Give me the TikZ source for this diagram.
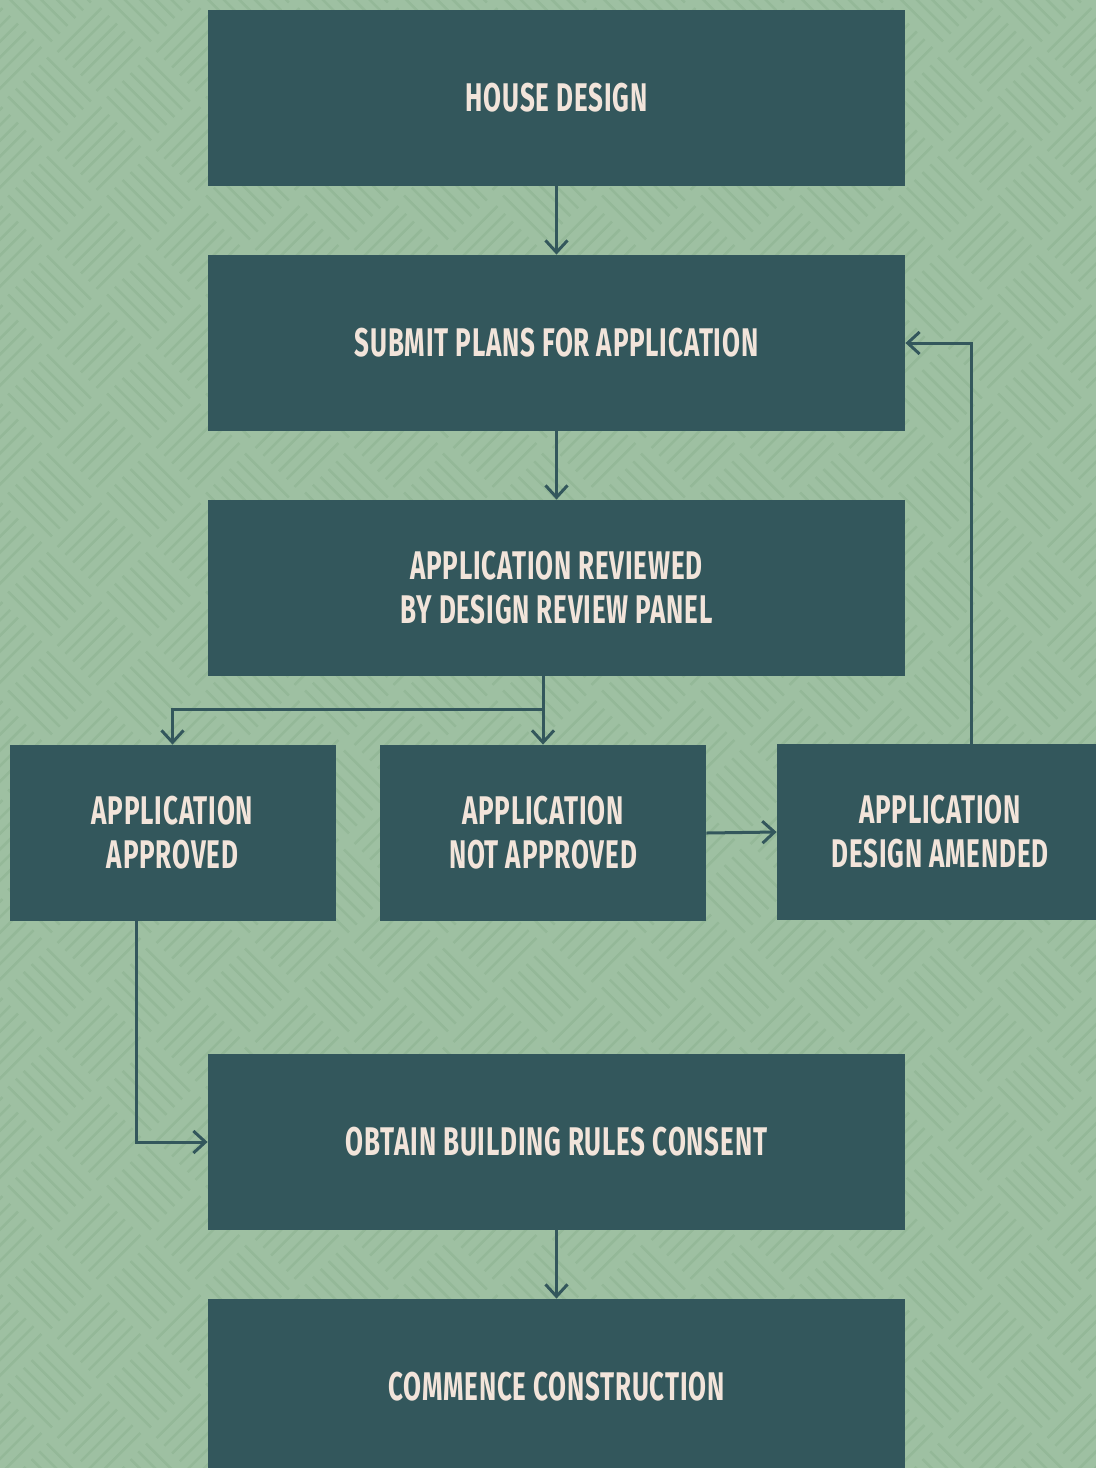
\documentclass[tikz,border=0pt]{standalone}
\usepackage{fontspec}
\usepackage{tikz}
\usetikzlibrary{arrows.meta}
\newfontfamily\boxfont{Fira Sans}[FakeStretch=0.65, LetterSpace=2]
\definecolor{bgcol}{RGB}{158,192,162}
\definecolor{weavecol}{RGB}{148,184,152}
\definecolor{boxcol}{RGB}{51,87,92}
\definecolor{txtcol}{RGB}{242,228,218}
\tikzset{
  stagebox/.style={fill=boxcol, text=txtcol, inner sep=0pt, align=center,
    minimum width=348.5pt, minimum height=88pt,
    font=\boxfont\bfseries\fontsize{20}{22}\selectfont},
  smallbox/.style={stagebox, minimum width=163pt},
  arr/.style={draw=boxcol, line width=1.5pt, -{Straight Barb[length=6pt,width=11pt,line width=1.5pt]}}
}
\begin{document}
\begin{tikzpicture}[x=0.5pt, y=-0.5pt]
        % background and weave
        \fill[bgcol] (0,0) rectangle (1096,1468);
        \clip (0,0) rectangle (1096,1468);
        \begin{scope}[rotate=45, weavecol, line width=1.25pt]
          \foreach \i in {-16,...,11} {
            \foreach \j in {-1,...,26} {
              \pgfmathtruncatemacro{\odd}{isodd(\i+\j+100)}
              \ifnum\odd=1
                \draw \foreach \k in {0,...,5} {({\i*70+4},{\j*70+7.5+\k*11}) -- ({\i*70+66},{\j*70+7.5+\k*11})};
              \else
                \draw \foreach \k in {0,...,5} {({\i*70+7.5+\k*11},{\j*70+4}) -- ({\i*70+7.5+\k*11},{\j*70+66})};
              \fi
            }
          }
        \end{scope}
        % stages
        \node[stagebox] (house) at (556.5, 97.5) {HOUSE DESIGN};
        \node[stagebox] (submit) at (556.5, 343) {SUBMIT PLANS FOR APPLICATION};
        \node[stagebox] (review) at (556.5, 588) {APPLICATION REVIEWED\\BY DESIGN REVIEW PANEL};
        \node[smallbox] (approved) at (172.5, 833) {APPLICATION\\APPROVED};
        \node[smallbox] (notapp) at (543, 833) {APPLICATION\\NOT APPROVED};
        \node[smallbox] (amended) at (940, 832) {APPLICATION\\DESIGN AMENDED};
        \node[stagebox] (consent) at (556.5, 1142) {OBTAIN BUILDING RULES CONSENT};
        \node[stagebox] (construct) at (556.5, 1387) {COMMENCE CONSTRUCTION};
        \coordinate (split) at (543, 709);
        \coordinate (back) at (971, 0);
        \coordinate (down) at (136, 0);
        % connectors
        \draw[arr] (house) -- (submit);
        \draw[arr] (submit) -- (review);
        \draw[arr] (review.south -| notapp.north) -- (notapp.north);
        \draw[arr] (split) -| (approved.north);
        \draw[arr] (notapp.east) -- (amended.west);
        \draw[arr] (amended.north -| back) |- (submit.east);
        \draw[arr] (approved.south -| down) |- (consent.west);
        \draw[arr] (consent) -- (construct);
      \end{tikzpicture}
\end{document}
